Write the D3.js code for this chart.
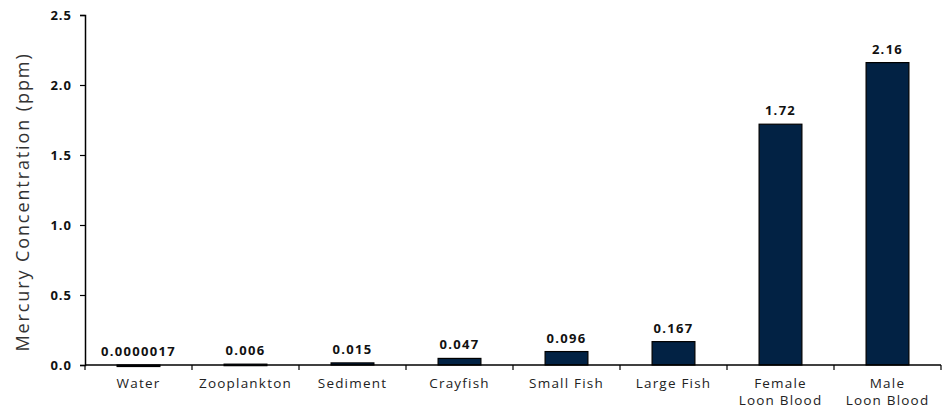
<!DOCTYPE html>
<html><head><meta charset="utf-8">
<script src="https://cdn.jsdelivr.net/npm/d3@7"></script>
<style>
html,body{margin:0;padding:0;background:#fff;}
svg{display:block;}
</style></head>
<body>
<svg id="chart" width="946" height="409"></svg>
<script>
const categories = ["Water", "Zooplankton", "Sediment", "Crayfish", "Small Fish", "Large Fish", "Female\nLoon Blood", "Male\nLoon Blood"];
const values = [0.0000017, 0.006, 0.015, 0.047, 0.096, 0.167, 1.72, 2.16];
const valueLabels = ["0.0000017", "0.006", "0.015", "0.047", "0.096", "0.167", "1.72", "2.16"];
const yTicks = [0, 0.5, 1.0, 1.5, 2.0, 2.5];

const svg = d3.select("#chart");
const margin = {left: 85, right: 5, top: 15, bottom: 44};
const x = d3.scaleBand().domain(categories).range([margin.left, 941]).paddingInner(0.6).paddingOuter(0.3);
const y = d3.scaleLinear().domain([0, 2.5]).range([365, 15]);
const font = "'Open Sans', Lato, sans-serif";

// bars
svg.append("g").selectAll("rect").data(values).join("rect")
  .attr("x", (d,i) => x(categories[i]))
  .attr("width", x.bandwidth())
  .attr("y", d => y(d))
  .attr("height", d => Math.max(y(0) - y(d), 1.5))
  .attr("fill", "#022244")
  .attr("stroke", "#000")
  .attr("stroke-width", 1.2);

// value labels
svg.append("g").selectAll("text").data(values).join("text")
  .attr("x", (d,i) => x(categories[i]) + x.bandwidth()/2)
  .attr("y", d => y(d) - 9)
  .attr("text-anchor", "middle")
  .attr("font-family", font)
  .attr("font-weight", "bold")
  .attr("font-size", 13)
  .attr("letter-spacing", 1.3)
  .attr("fill", "#111")
  .text((d,i) => valueLabels[i]);

// y axis
const yAxis = d3.axisLeft(y).tickValues(yTicks).tickFormat(d3.format(".1f")).tickSize(5).tickPadding(8);
const gy = svg.append("g").attr("transform", `translate(${margin.left},0)`).call(yAxis);
gy.select(".domain").attr("stroke", "#000").attr("stroke-width", 1.5);
gy.selectAll(".tick line").attr("stroke", "#000").attr("stroke-width", 1.2);
gy.selectAll(".tick text").attr("font-family", font).attr("font-weight", "bold").attr("font-size", 13).attr("letter-spacing", 1).attr("fill", "#111");

// x axis
const xEdges = d3.range(categories.length + 1).map(i => margin.left + i * (941 - margin.left) / categories.length);
const gx = svg.append("g");
gx.append("line").attr("x1", margin.left).attr("x2", 941).attr("y1", y(0)).attr("y2", y(0)).attr("stroke", "#000").attr("stroke-width", 1.5);
gx.selectAll("line.t").data(xEdges).join("line").attr("class","t")
  .attr("x1", d => d).attr("x2", d => d).attr("y1", y(0)).attr("y2", y(0) + 5)
  .attr("stroke", "#000").attr("stroke-width", 1.2);
const lbl = gx.selectAll("text").data(categories).join("text")
  .attr("x", d => x(d) + x.bandwidth()/2)
  .attr("y", 388)
  .attr("text-anchor", "middle")
  .attr("font-family", font)
  .attr("font-size", 13.5)
  .attr("letter-spacing", 1.2)
  .attr("fill", "#222");
lbl.each(function(d){
  const t = d3.select(this);
  d.split("\n").forEach((s, k) => {
    t.append("tspan").attr("x", x(d) + x.bandwidth()/2).attr("dy", k ? 16.5 : 0).text(s);
  });
});

// y title
svg.append("text")
  .attr("transform", `translate(29,${(52+352)/2}) rotate(-90)`)
  .attr("text-anchor", "middle")
  .attr("font-family", font)
  .attr("font-size", 18)
  .attr("letter-spacing", 1.9)
  .attr("fill", "#333")
  .text("Mercury Concentration (ppm)");
</script>
</body></html>
